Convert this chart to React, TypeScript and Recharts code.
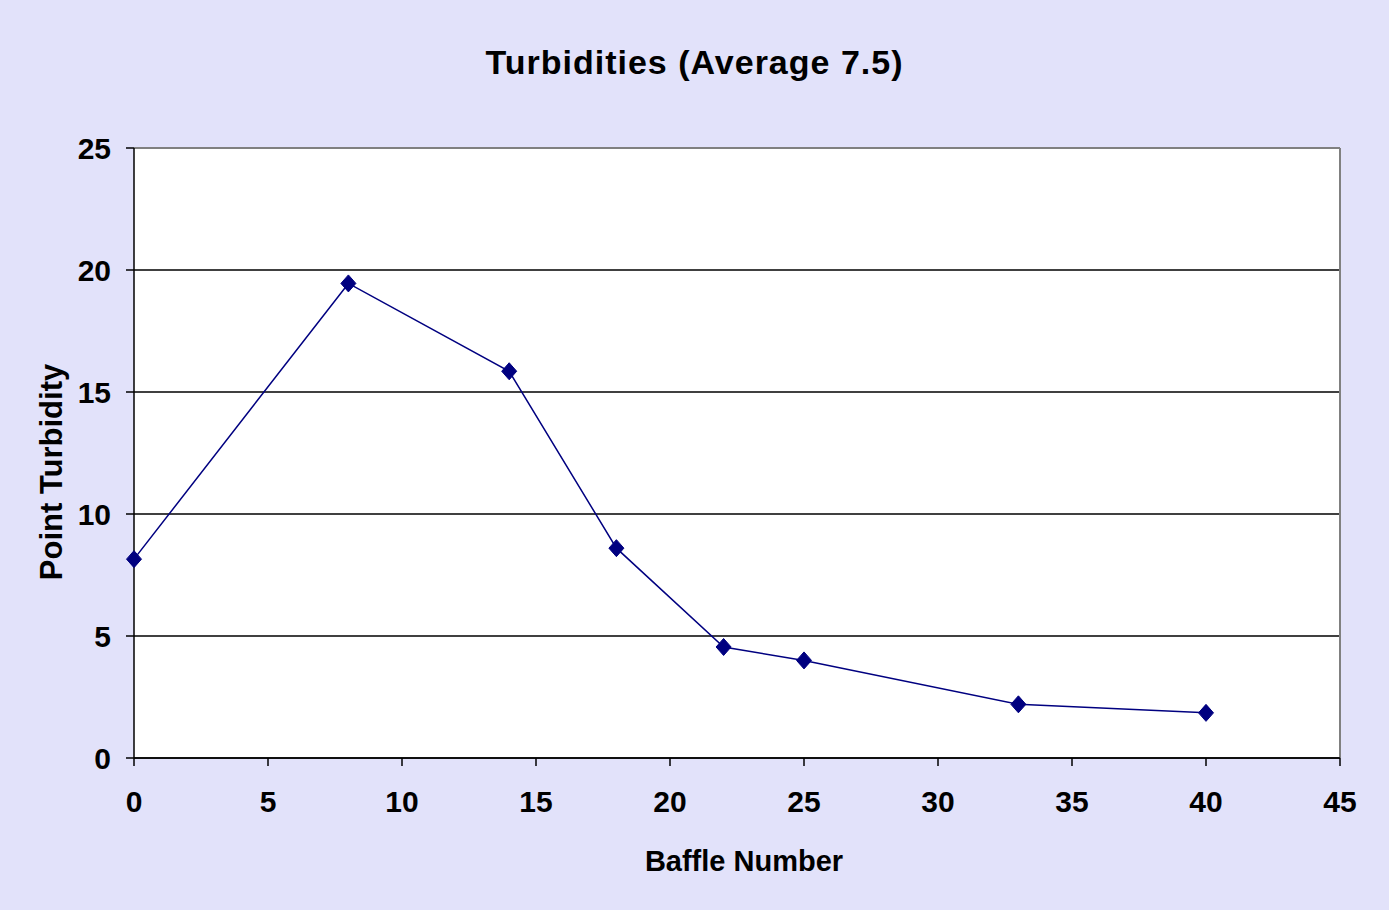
import React from 'react';
import { LineChart, Line, XAxis, YAxis, CartesianGrid, ReferenceLine } from 'recharts';

const baffles = [0, 8, 14, 18, 22, 25, 33, 40];
const turbidity = [8.15, 19.45, 15.85, 8.6, 4.55, 4.0, 2.2, 1.85];
const xTicks = [0, 5, 10, 15, 20, 25, 30, 35, 40, 45];
const yTicks = [0, 5, 10, 15, 20, 25];

const data = baffles.map((b, i) => ({ baffle: b, turbidity: turbidity[i] }));

const FONT = '"Liberation Sans", Arial, sans-serif';
const BG = '#e2e2fa';
const NAVY = '#000080';

const tickStyle = { fill: '#000', fontSize: 30, fontWeight: 'bold', fontFamily: FONT };

// Excel-style diamond marker
function Diamond(props: any) {
    const { cx, cy } = props;
    if (cx == null || cy == null) return null;
    return (
        <polygon
            points={`${cx},${cy - 8.5} ${cx + 7.5},${cy} ${cx},${cy + 8.5} ${cx - 7.5},${cy}`}
            fill={NAVY}
            stroke={NAVY}
            strokeWidth={1}
        />
    );
}

export default function App() {
    return (
        <div
            style={{
                position: 'absolute',
                left: 0,
                top: 0,
                width: 1389,
                height: 910,
                background: BG,
                fontFamily: FONT,
                overflow: 'hidden'
            }}
        >
            <div
                style={{
                    position: 'absolute',
                    left: 0,
                    top: 42,
                    width: 1389,
                    textAlign: 'center',
                    fontSize: 34,
                    lineHeight: '40px',
                    fontWeight: 'bold',
                    letterSpacing: 1,
                    color: '#000'
                }}
            >
                Turbidities (Average 7.5)
            </div>
            <LineChart
                width={1389}
                height={910}
                data={data}
                margin={{ top: 148, right: 49, bottom: 112, left: 74 }}
            >
                <CartesianGrid vertical={false} stroke="#000" strokeWidth={1.3} fill="#fff" />
                <XAxis
                    dataKey="baffle"
                    type="number"
                    domain={[0, 45]}
                    ticks={xTicks}
                    interval={0}
                    height={40}
                    axisLine={{ stroke: '#000', strokeWidth: 1.5 }}
                    tickLine={{ stroke: '#000', strokeWidth: 1.5 }}
                    tickSize={8}
                    tickMargin={25}
                    tick={tickStyle}
                />
                <YAxis
                    type="number"
                    domain={[0, 25]}
                    ticks={yTicks}
                    interval={0}
                    width={60}
                    axisLine={{ stroke: '#000', strokeWidth: 1.5 }}
                    tickLine={{ stroke: '#000', strokeWidth: 1.5 }}
                    tickSize={8}
                    tickMargin={15}
                    tick={tickStyle}
                />
                <ReferenceLine y={25} stroke="#808080" strokeWidth={2} />
                <ReferenceLine x={45} stroke="#808080" strokeWidth={2} />
                <Line
                    dataKey="turbidity"
                    type="linear"
                    stroke={NAVY}
                    strokeWidth={1.5}
                    dot={<Diamond />}
                    activeDot={false}
                    isAnimationActive={false}
                />
            </LineChart>
            <div
                style={{
                    position: 'absolute',
                    left: 444,
                    top: 844,
                    width: 600,
                    textAlign: 'center',
                    fontSize: 29,
                    lineHeight: '34px',
                    fontWeight: 'bold',
                    color: '#000'
                }}
            >
                Baffle Number
            </div>
            <div
                style={{
                    position: 'absolute',
                    left: -148,
                    top: 455,
                    width: 400,
                    textAlign: 'center',
                    fontSize: 31,
                    lineHeight: '34px',
                    fontWeight: 'bold',
                    color: '#000',
                    transform: 'rotate(-90deg)',
                    transformOrigin: 'center center'
                }}
            >
                Point Turbidity
            </div>
        </div>
    );
}
